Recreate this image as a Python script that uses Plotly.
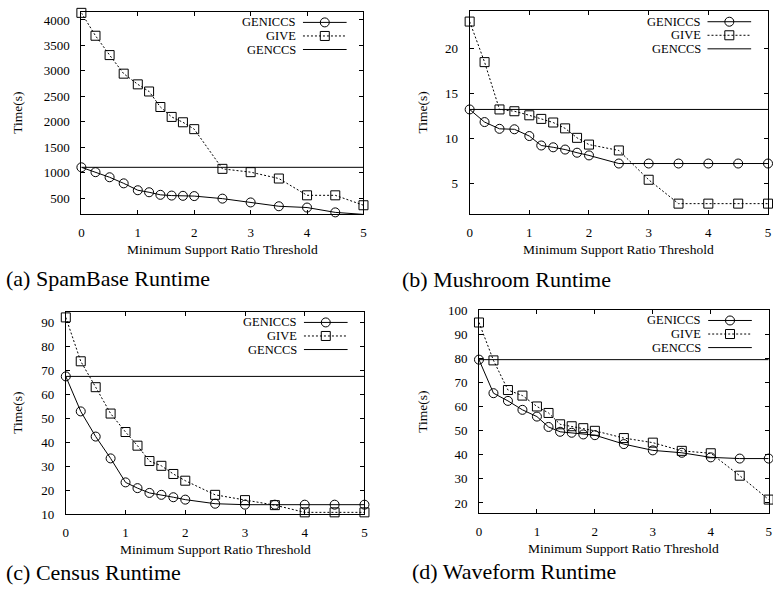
import plotly.graph_objects as go

# Canvas size in pixels
W, H = 773, 601

# Minimum support ratio thresholds (shared x values)
thresholds = [0, 0.25, 0.5, 0.75, 1, 1.2, 1.4, 1.6, 1.8, 2, 2.5, 3, 3.5, 4, 4.5, 5]
x_ticks = [0, 1, 2, 3, 4, 5]

# (a) SpamBase runtime, seconds
spam_geniccs = [1105, 1010, 910, 790, 655, 615, 565, 550, 545, 540, 490, 415, 340, 315, 220, 180]
spam_give = [4140, 3690, 3310, 2945, 2735, 2595, 2290, 2095, 1990, 1855, 1075, 1010, 885, 555, 555, 360]
spam_genccs = 1105
spam_yticks = [500, 1000, 1500, 2000, 2500, 3000, 3500, 4000]

# (b) Mushroom runtime, seconds
mush_geniccs = [13.2, 11.8, 11.05, 11.0, 10.25, 9.2, 9.0, 8.75, 8.4, 8.1, 7.2, 7.2, 7.2, 7.2, 7.2, 7.2]
mush_give = [22.95, 18.45, 13.2, 13.0, 12.55, 12.15, 11.75, 11.1, 10.05, 9.3, 8.65, 5.4, 2.75, 2.75, 2.75, 2.75]
mush_genccs = 13.2
mush_yticks = [5, 10, 15, 20]

# (c) Census runtime, seconds
census_geniccs = [67.4, 52.8, 42.3, 33.2, 23.2, 20.8, 18.8, 18.0, 17.0, 16.0, 14.3, 13.9, 13.9, 13.9, 13.9, 13.9]
census_give = [92.0, 73.7, 62.9, 51.9, 44.2, 38.5, 32.1, 30.1, 26.7, 23.9, 18.0, 15.8, 13.7, 10.7, 10.7, 10.7]
census_genccs = 67.4
census_yticks = [10, 20, 30, 40, 50, 60, 70, 80, 90]

# (d) Waveform runtime, seconds
wave_geniccs = [79.4, 65.5, 62.3, 58.6, 55.8, 51.5, 49.5, 49.1, 48.4, 48.1, 44.4, 41.8, 40.8, 38.9, 38.4, 38.4]
wave_give = [94.8, 79.1, 66.8, 64.5, 60.0, 57.3, 52.6, 51.8, 51.0, 49.9, 46.9, 45.0, 41.6, 40.6, 31.3, 21.4]
wave_genccs = 79.4
wave_yticks = [20, 30, 40, 50, 60, 70, 80, 90, 100]

series_names = ["GENICCS", "GIVE", "GENCCS"]
x_title = "Minimum Support Ratio Threshold"
y_title = "Time(s)"

panels = [
    dict(caption="(a) SpamBase Runtime", geniccs=spam_geniccs, give=spam_give,
         genccs=spam_genccs, yticks=spam_yticks, yrange=[188, 4159],
         box=(79.0, 5.0, 363.3, 212.3), cap_x=1, cap_y=278, ytitle_x=15),
    dict(caption="(b) Mushroom Runtime", geniccs=mush_geniccs, give=mush_give,
         genccs=mush_genccs, yticks=mush_yticks, yrange=[1.6, 24.1],
         box=(470.3, 4.3, 771.0, 212.3), cap_x=399.7, cap_y=279, ytitle_x=423.3),
    dict(caption="(c) Census Runtime", geniccs=census_geniccs, give=census_give,
         genccs=census_genccs, yticks=census_yticks, yrange=[10, 94.3],
         box=(63.3, 312.7, 364.3, 520.0), cap_x=1, cap_y=580, ytitle_x=15),
    dict(caption="(d) Waveform Runtime", geniccs=wave_geniccs, give=wave_give,
         genccs=wave_genccs, yticks=wave_yticks, yrange=[15.7, 100],
         box=(479.7, 310.7, 771.7, 519.3), cap_x=409.7, cap_y=579, ytitle_x=423.3),
]

FONT = "Liberation Serif, Times New Roman, Times, serif"


def px(xp):
    return xp / W


def py(yp):
    return 1 - yp / H


fig = go.Figure()
shapes = []
annotations = []
layout_axes = {}

for i, p in enumerate(panels, start=1):
    left, top, right, bottom = p["box"]
    xa = "x" if i == 1 else f"x{i}"
    ya = "y" if i == 1 else f"y{i}"
    xkey = "xaxis" if i == 1 else f"xaxis{i}"
    ykey = "yaxis" if i == 1 else f"yaxis{i}"

    common = dict(showline=True, linecolor="black", linewidth=1, mirror="ticks",
                  ticks="inside", ticklen=4, tickwidth=1, tickcolor="black",
                  showgrid=False, zeroline=False, fixedrange=True,
                  tickfont=dict(family=FONT, size=13, color="black"))
    layout_axes[xkey] = dict(domain=[px(left), px(right)], anchor=ya,
                             range=[thresholds[0], thresholds[-1]],
                             tickvals=x_ticks, ticklabelstandoff=6, **common)
    layout_axes[ykey] = dict(domain=[py(bottom), py(top)], anchor=xa,
                             range=p["yrange"], tickvals=p["yticks"],
                             ticklabelstandoff=8, **common)

    fig.add_trace(go.Scatter(
        x=thresholds, y=p["geniccs"], xaxis=xa, yaxis=ya, name=series_names[0],
        mode="lines+markers", cliponaxis=False, showlegend=False,
        line=dict(color="black", width=1),
        marker=dict(symbol="circle-open", size=9, color="black", line=dict(width=1))))
    fig.add_trace(go.Scatter(
        x=thresholds, y=p["give"], xaxis=xa, yaxis=ya, name=series_names[1],
        mode="lines+markers", cliponaxis=False, showlegend=False,
        line=dict(color="black", width=1, dash="2px,2px"),
        marker=dict(symbol="square-open", size=9, color="black", line=dict(width=1))))
    fig.add_trace(go.Scatter(
        x=[thresholds[0], thresholds[-1]], y=[p["genccs"], p["genccs"]],
        xaxis=xa, yaxis=ya, name=series_names[2], mode="lines",
        cliponaxis=False, showlegend=False,
        line=dict(color="black", width=1)))

    # Key in the top-right corner: label on the left, sample on the right
    s0, s1 = right - 61, right - 17
    for row, (label, dash, sym) in enumerate(zip(
            series_names, ["solid", "2px,2px", "solid"], ["circle", "rect", None])):
        yy = top + 10.8 + row * 13.9
        shapes.append(dict(type="line", xref="paper", yref="paper",
                           x0=px(s0), x1=px(s1), y0=py(yy), y1=py(yy),
                           line=dict(color="black", width=1, dash=dash)))
        if sym is not None:
            shapes.append(dict(type=sym, xref="paper", yref="paper",
                               xsizemode="pixel", ysizemode="pixel",
                               xanchor=px((s0 + s1) / 2), yanchor=py(yy),
                               x0=-4.5, x1=4.5, y0=-4.5, y1=4.5,
                               line=dict(color="black", width=1)))
        annotations.append(dict(text=label, xref="paper", yref="paper",
                                x=px(right - 67), y=py(yy), xanchor="right",
                                yanchor="middle", showarrow=False, borderpad=0,
                                font=dict(family=FONT, size=12.5, color="black")))

    # Axis titles
    annotations.append(dict(text=x_title, xref="paper", yref="paper",
                            x=px((left + right) / 2), y=py(bottom + 36),
                            xanchor="center", yanchor="middle", showarrow=False,
                            font=dict(family=FONT, size=13.5, color="black")))
    annotations.append(dict(text=y_title, xref="paper", yref="paper",
                            x=px(p["ytitle_x"]), y=py((top + bottom) / 2),
                            xanchor="center", yanchor="middle", showarrow=False,
                            textangle=-90,
                            font=dict(family=FONT, size=13.5, color="black")))
    # Sub-figure caption
    annotations.append(dict(text=p["caption"], xref="paper", yref="paper",
                            x=px(p["cap_x"]), y=py(p["cap_y"]),
                            xanchor="left", yanchor="middle", showarrow=False,
                            font=dict(family=FONT, size=22, color="black")))

fig.update_layout(
    width=W, height=H, margin=dict(l=0, r=0, t=0, b=0),
    paper_bgcolor="white", plot_bgcolor="white",
    shapes=shapes, annotations=annotations, showlegend=False,
    font=dict(family=FONT, color="black"),
    **layout_axes,
)

fig.write_html("out.html", config={"displayModeBar": False})
